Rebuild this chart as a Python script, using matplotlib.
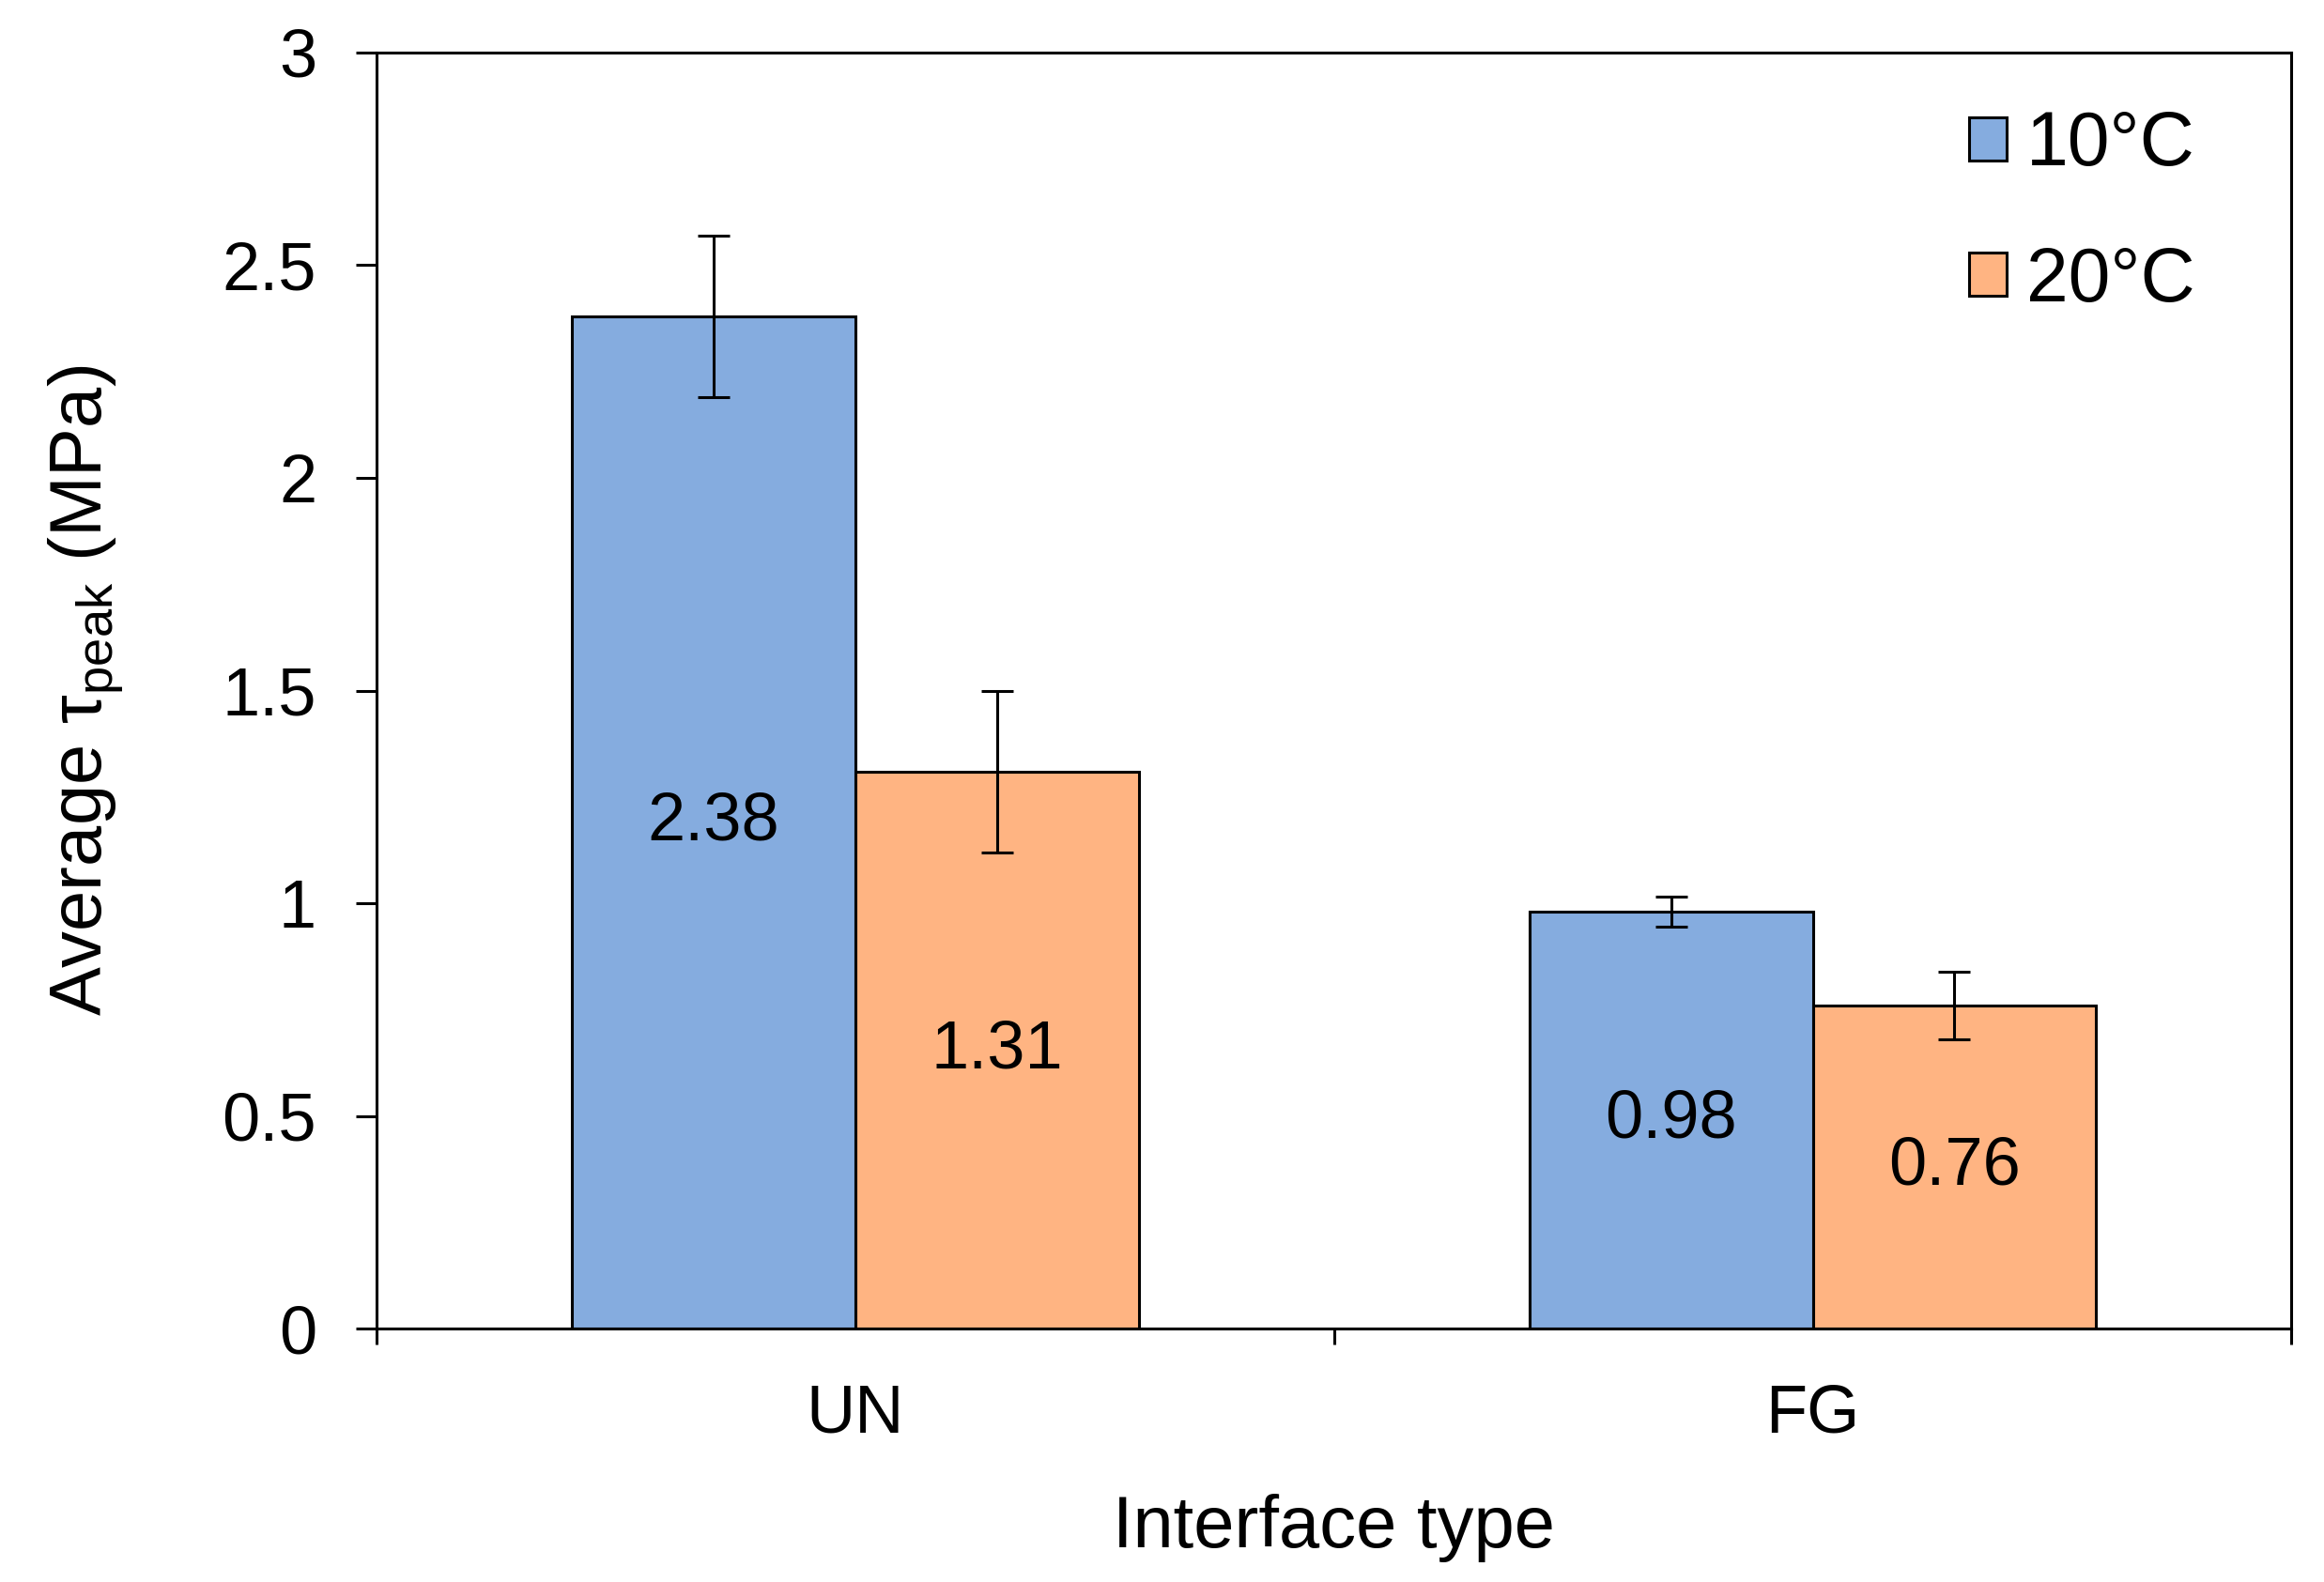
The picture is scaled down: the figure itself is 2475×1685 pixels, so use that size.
import matplotlib
matplotlib.use("Agg")
import matplotlib.pyplot as plt
import numpy as np

plt.rcParams['font.family'] = ['Liberation Sans', 'DejaVu Sans']
plt.rcParams['mathtext.fontset'] = 'custom'
plt.rcParams['mathtext.rm'] = 'Liberation Sans'
plt.rcParams['mathtext.it'] = 'Liberation Sans'

# data
categories = ['UN', 'FG']
series_names = ['10°C', '20°C']
vals_10 = [2.38, 0.98]
vals_20 = [1.31, 0.76]
err_10 = [0.19, 0.035]
err_20 = [0.19, 0.08]
colors = ['#85ACDF', '#FFB482']

fig = plt.figure(figsize=(12.375, 8.425), dpi=200)
ax = fig.add_axes([0.162, 0.160, 0.824, 0.807])

x = np.arange(len(categories))
w = 0.296

for vals, errs, off, col, name in [(vals_10, err_10, -w / 2, colors[0], series_names[0]),
                                   (vals_20, err_20, w / 2, colors[1], series_names[1])]:
    bars = ax.bar(x + off, vals, w, color=col, edgecolor='black', linewidth=1.1, label=name,
                  yerr=errs, error_kw=dict(ecolor='black', elinewidth=1.1, capsize=6, capthick=1.1))
    ax.bar_label(bars, labels=['%.2f' % v for v in vals], label_type='center', fontsize=26)

ax.set_xlim(-0.5, 1.5)
ax.set_ylim(0, 3)
ax.set_yticks([0, 0.5, 1, 1.5, 2, 2.5, 3])
ax.set_yticklabels(['0', '0.5', '1', '1.5', '2', '2.5', '3'])
ax.tick_params(axis='y', labelsize=26, length=8, width=1.1, pad=15)

# ticks at the group boundaries, labels at the group centres
ax.set_xticks([-0.5, 0.5, 1.5])
ax.set_xticklabels([])
ax.tick_params(axis='x', which='major', length=6, width=1.1)
ax.set_xticks(x, minor=True)
ax.set_xticklabels(categories, minor=True)
ax.tick_params(axis='x', which='minor', length=0, labelsize=26, pad=21)

for s in ax.spines.values():
    s.set_linewidth(1.1)

ax.set_xlabel('Interface type', fontsize=28, labelpad=18)
ax.set_ylabel(r'Average τ$_{\mathrm{peak}}$ (MPa)', fontsize=28, labelpad=37)

ax.legend(loc='upper right', bbox_to_anchor=(0.985, 1.008), frameon=False, fontsize=29,
          handlelength=0.5, handleheight=0.5, handletextpad=0.25, labelspacing=0.85)

fig.savefig('out.png', dpi=200)
